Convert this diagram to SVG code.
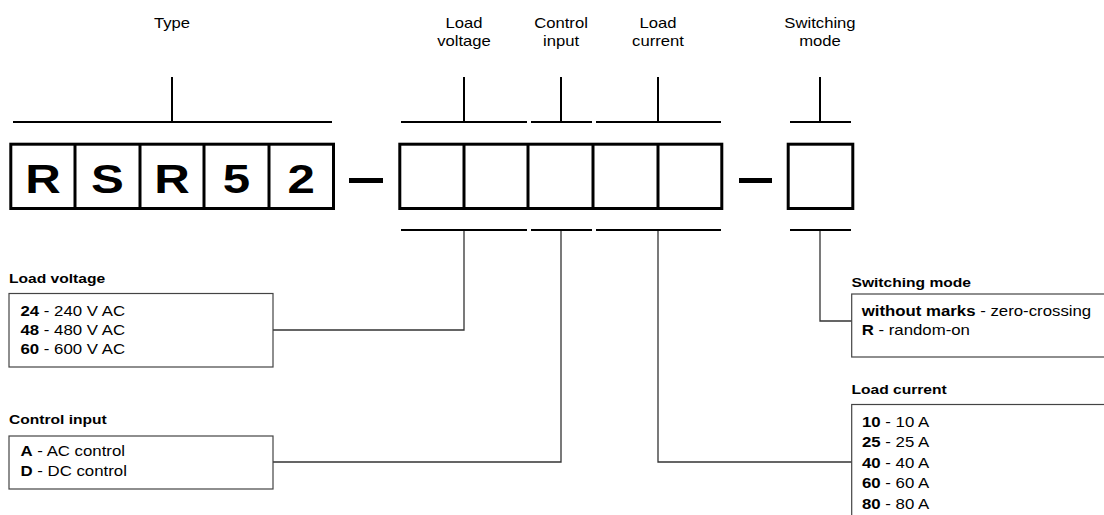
<svg xmlns="http://www.w3.org/2000/svg" width="1104" height="515" viewBox="0 0 1104 515">
<style>
text{font-family:"Liberation Sans",Arial,Helvetica,sans-serif;fill:#000}
.top{font-size:14px;text-anchor:middle}
.big{font-size:41px;font-weight:bold;text-anchor:middle}
.ttl{font-size:13px;font-weight:bold}
.row{font-size:14px}
.b{font-weight:bold}
.cell{fill:#fff;stroke:#000;stroke-width:3}
.div{stroke:#000;stroke-width:3}
.br{stroke:#000;stroke-width:2;fill:none}
.leg{fill:#fff;stroke:#444;stroke-width:1.2}
.con{stroke:#333;stroke-width:1.3;fill:none}
</style>
<rect width="1104" height="515" fill="#fff"/>

<g id="labels-top">
<text class="top" transform="translate(172,27.5) scale(1.19,1)">Type</text>
<text class="top" transform="translate(464,28) scale(1.19,1)">Load</text>
<text class="top" transform="translate(464,46) scale(1.19,1)">voltage</text>
<text class="top" transform="translate(561,28) scale(1.19,1)">Control</text>
<text class="top" transform="translate(561,46) scale(1.19,1)">input</text>
<text class="top" transform="translate(658,28) scale(1.19,1)">Load</text>
<text class="top" transform="translate(658,46) scale(1.19,1)">current</text>
<text class="top" transform="translate(820,28) scale(1.19,1)">Switching</text>
<text class="top" transform="translate(820,46) scale(1.19,1)">mode</text>
</g>

<g id="brackets">
<line class="br" x1="13" y1="122" x2="332" y2="122"/>
<line class="br" x1="172" y1="77" x2="172" y2="122"/>
<line class="br" x1="401" y1="122" x2="527" y2="122"/>
<line class="br" x1="464" y1="77" x2="464" y2="122"/>
<line class="br" x1="531" y1="122" x2="592" y2="122"/>
<line class="br" x1="561" y1="77" x2="561" y2="122"/>
<line class="br" x1="596" y1="122" x2="721" y2="122"/>
<line class="br" x1="658" y1="77" x2="658" y2="122"/>
<line class="br" x1="790" y1="122" x2="851" y2="122"/>
<line class="br" x1="820" y1="77" x2="820" y2="122"/>
<line class="br" x1="401" y1="230" x2="527" y2="230"/>
<line class="br" x1="531" y1="230" x2="592" y2="230"/>
<line class="br" x1="596" y1="230" x2="721" y2="230"/>
<line class="br" x1="790" y1="230" x2="851" y2="230"/>
</g>

<g id="type-code">
<rect class="cell" x="10.8" y="144.2" width="322.7" height="64.3"/>
<line class="div" x1="75" y1="144" x2="75" y2="209"/>
<line class="div" x1="140" y1="144" x2="140" y2="209"/>
<line class="div" x1="204" y1="144" x2="204" y2="209"/>
<line class="div" x1="269" y1="144" x2="269" y2="209"/>
<text class="big" transform="translate(43,193.3) scale(1.2,1)">R</text>
<text class="big" transform="translate(107.5,193.3) scale(1.2,1)">S</text>
<text class="big" transform="translate(172,193.3) scale(1.2,1)">R</text>
<text class="big" transform="translate(236.5,193.3) scale(1.2,1)">5</text>
<text class="big" transform="translate(301.2,193.3) scale(1.2,1)">2</text>
</g>

<rect id="dash1" x="349" y="178" width="34" height="5" fill="#000"/>

<g id="option-code">
<rect class="cell" x="399.8" y="144.2" width="322" height="64.3"/>
<line class="div" x1="464" y1="144" x2="464" y2="209"/>
<line class="div" x1="528" y1="144" x2="528" y2="209"/>
<line class="div" x1="593" y1="144" x2="593" y2="209"/>
<line class="div" x1="658" y1="144" x2="658" y2="209"/>
</g>

<rect id="dash2" x="739" y="178" width="33" height="5" fill="#000"/>

<g id="mode-code">
<rect class="cell" x="788.2" y="144.2" width="64.6" height="64.3"/>
</g>

<g id="connectors">
<polyline class="con" points="464,231 464,330 273,330"/>
<polyline class="con" points="561,231 561,462 273,462"/>
<polyline class="con" points="658,231 658,462 852,462"/>
<polyline class="con" points="820,231 820,321 852,321"/>
</g>

<g id="legend-load-voltage">
<text class="ttl" transform="translate(9,283) scale(1.2,1)">Load voltage</text>
<rect class="leg" x="9" y="293.5" width="264" height="73.5"/>
<text class="row" transform="translate(20.5,316) scale(1.2,1)"><tspan class="b">24</tspan> - 240 V AC</text>
<text class="row" transform="translate(20.5,335) scale(1.2,1)"><tspan class="b">48</tspan> - 480 V AC</text>
<text class="row" transform="translate(20.5,354) scale(1.2,1)"><tspan class="b">60</tspan> - 600 V AC</text>
</g>

<g id="legend-control-input">
<text class="ttl" transform="translate(9,424) scale(1.2,1)">Control input</text>
<rect class="leg" x="9" y="436" width="264" height="53"/>
<text class="row" transform="translate(20.5,456) scale(1.2,1)"><tspan class="b">A</tspan> - AC control</text>
<text class="row" transform="translate(20.5,476) scale(1.2,1)"><tspan class="b">D</tspan> - DC control</text>
</g>

<g id="legend-switching-mode">
<text class="ttl" transform="translate(851.5,287) scale(1.2,1)">Switching mode</text>
<rect class="leg" x="851.7" y="294" width="270" height="63"/>
<text class="row" transform="translate(861.7,315.7) scale(1.2,1)"><tspan class="b">without marks</tspan> - zero-crossing</text>
<text class="row" transform="translate(861.7,334.5) scale(1.2,1)"><tspan class="b">R</tspan> - random-on</text>
</g>

<g id="legend-load-current">
<text class="ttl" transform="translate(851.5,393.5) scale(1.2,1)">Load current</text>
<rect class="leg" x="851.7" y="404.5" width="270" height="130"/>
<text class="row" transform="translate(862,426.7) scale(1.2,1)"><tspan class="b">10</tspan> - 10 A</text>
<text class="row" transform="translate(862,447) scale(1.2,1)"><tspan class="b">25</tspan> - 25 A</text>
<text class="row" transform="translate(862,467.5) scale(1.2,1)"><tspan class="b">40</tspan> - 40 A</text>
<text class="row" transform="translate(862,488.3) scale(1.2,1)"><tspan class="b">60</tspan> - 60 A</text>
<text class="row" transform="translate(862,509) scale(1.2,1)"><tspan class="b">80</tspan> - 80 A</text>
</g>
</svg>
